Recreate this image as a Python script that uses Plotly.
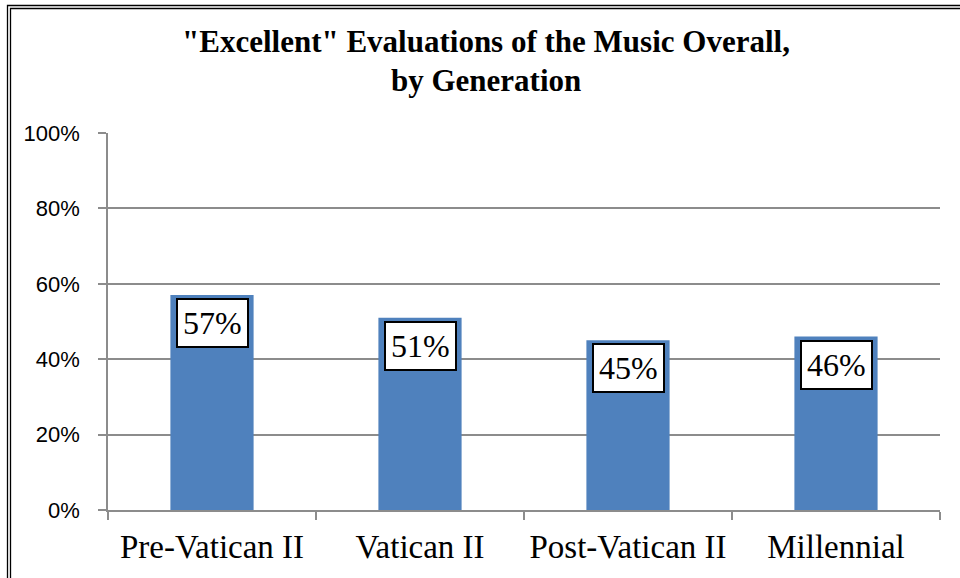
import plotly.graph_objects as go

# chart data
generations = ["Pre-Vatican II", "Vatican II", "Post-Vatican II", "Millennial"]
excellent_pct = [57, 51, 45, 46]
y_ticks = [0, 20, 40, 60, 80, 100]

# plot area in pixels (960x578 canvas)
L, R, T, B = 108, 940, 133, 510
W, H = 960, 578
SERIF = "Liberation Serif, Times New Roman, serif"
SANS = "Liberation Sans, Arial, sans-serif"

def px_x(px):
    return (px - L) / (R - L)

def px_y(py):
    return (B - py) / (B - T)

fig = go.Figure()
fig.add_trace(go.Bar(
    x=generations,
    y=excellent_pct,
    marker=dict(color="#4F81BD", line=dict(width=0)),
    width=0.4,
    hoverinfo="x+y",
))

# boxed data labels just under the bar tops
for g, v in zip(generations, excellent_pct):
    fig.add_annotation(
        x=g, y=v, text=f"{v}%",
        xref="x", yref="y",
        yanchor="top", yshift=-3,
        showarrow=False,
        font=dict(family=SERIF, size=32, color="black"),
        bgcolor="white", bordercolor="black", borderwidth=2, borderpad=5,
    )

# two-line title
fig.add_annotation(
    x=px_x(486), y=px_y(42), xref="paper", yref="paper",
    text='<b>"Excellent" Evaluations of the Music Overall,</b>',
    showarrow=False, xanchor="center", yanchor="middle",
    font=dict(family=SERIF, size=31, color="black"),
)
fig.add_annotation(
    x=px_x(486), y=px_y(80), xref="paper", yref="paper",
    text="<b>by Generation</b>",
    showarrow=False, xanchor="center", yanchor="middle",
    font=dict(family=SERIF, size=31, color="black"),
)

# chart border (double line, only top and left are visible)
for off in (7.5, 10.5):
    fig.add_shape(
        type="rect", xref="paper", yref="paper",
        x0=px_x(off), y0=px_y(900), x1=px_x(1500), y1=px_y(off - 2),
        line=dict(color="black", width=1.3), fillcolor="rgba(0,0,0,0)",
        layer="above",
    )

fig.update_layout(
    width=W, height=H,
    margin=dict(l=L, r=W - R, t=T, b=H - B, autoexpand=False),
    paper_bgcolor="white",
    plot_bgcolor="white",
    showlegend=False,
    font=dict(family=SERIF),
    xaxis=dict(
        type="category",
        range=[-0.5, 3.5],
        showgrid=False,
        showline=True, linecolor="#8C8C8C", linewidth=1.5,
        ticks="outside", tickson="boundaries", ticklen=8,
        tickcolor="#8C8C8C", tickwidth=1.5,
        tickfont=dict(family=SERIF, size=33, color="black"),
        ticklabelstandoff=7,
    ),
    yaxis=dict(
        range=[0, 100],
        tickvals=y_ticks,
        ticktext=[f"{t}%" for t in y_ticks],
        showgrid=True, gridcolor="#8C8C8C", gridwidth=1.5,
        showline=True, linecolor="#8C8C8C", linewidth=1.5,
        ticks="outside", ticklen=8, tickcolor="#8C8C8C", tickwidth=1.5,
        tickfont=dict(family=SANS, size=22, color="black"),
        ticklabelstandoff=14,
        zeroline=False,
    ),
)

fig.write_html("out.html", config={"displayModeBar": False},
               post_script="document.body.style.margin='0';")
